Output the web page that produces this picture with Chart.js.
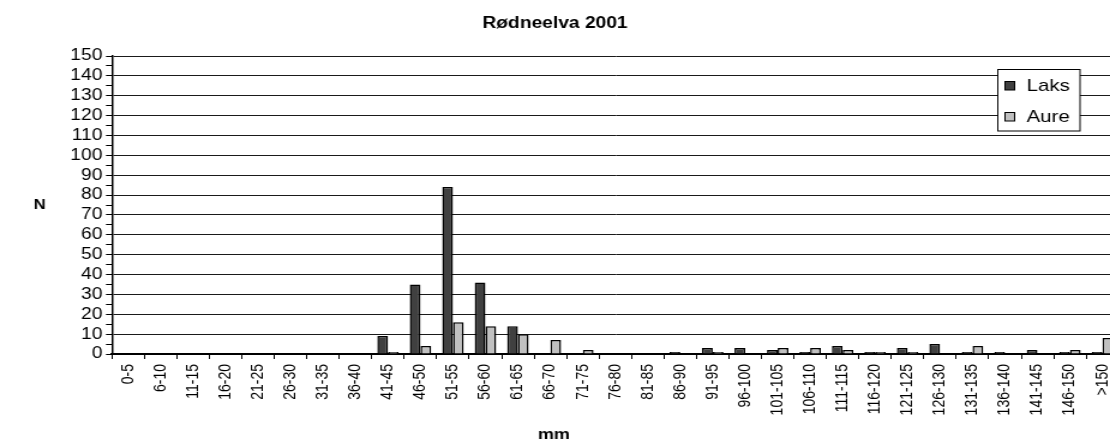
<!DOCTYPE html>
<html>
<head>
<meta charset="utf-8">
<script src="https://cdn.jsdelivr.net/npm/chart.js@4/dist/chart.umd.min.js"></script>
<style>
html,body{margin:0;padding:0;background:#fff;}
#wrap{width:1110px;height:447px;overflow:hidden;position:relative;background:#fff;}
#c{position:absolute;left:0;top:0;transform:scaleX(1.2);transform-origin:0 0;}
</style>
</head>
<body>
<div id="wrap"><canvas id="c" width="950" height="447" style="width:950px;height:447px"></canvas></div>
<script>
const chartTitle = 'Rødneelva 2001';
const yTitle = 'N';
const xTitle = 'mm';
const categories = ['0-5','6-10','11-15','16-20','21-25','26-30','31-35','36-40','41-45','46-50','51-55','56-60','61-65','66-70','71-75','76-80','81-85','86-90','91-95','96-100','101-105','106-110','111-115','116-120','121-125','126-130','131-135','136-140','141-145','146-150','>150'];
const laks = [0,0,0,0,0,0,0,0,9,35,84,36,14,0,0,0,0,1,3,3,2,1,4,1,3,5,1,1,2,1,1];
const aure = [0,0,0,0,0,0,0,0,1,4,16,14,10,7,2,0,0,0,1,0,3,3,2,1,1,0,4,0,0,2,8];
const seriesNames = ['Laks','Aure'];
const seriesColors = ['#404040','#c0c0c0'];
const yMin = 0, yMax = 150, yStep = 10;

const FONT = '"Liberation Sans", Arial, sans-serif';

const textPlugin = {
  id: 'textPlugin',
  afterDraw(chart) {
    const ctx = chart.ctx;
    ctx.save();
    ctx.fillStyle = '#000';
    ctx.textAlign = 'center';
    ctx.textBaseline = 'middle';
    ctx.font = 'bold 16px ' + FONT;
    ctx.fillText(chartTitle, 462.5, 24);
    ctx.font = 'bold 14px ' + FONT;
    ctx.fillText(yTitle, 33, 205);
    ctx.font = 'bold 15px ' + FONT;
    ctx.fillText(xTitle, 461.5, 435);
    // legend
    const bx = 831.5, by = 69.5, bw = 68.5, bh = 61.5;
    ctx.fillStyle = '#fff';
    ctx.fillRect(bx, by, bw, bh);
    ctx.strokeStyle = '#000';
    ctx.lineWidth = 1;
    ctx.strokeRect(bx, by, bw, bh);
    const rows = [{sq: 81.5, base: 90.5}, {sq: 112.5, base: 122}];
    ctx.textAlign = 'left';
    ctx.textBaseline = 'alphabetic';
    ctx.font = '17px ' + FONT;
    rows.forEach((r, i) => {
      ctx.fillStyle = seriesColors[i];
      ctx.fillRect(837.5, r.sq, 8, 8.5);
      ctx.strokeStyle = '#000';
      ctx.lineWidth = 1;
      ctx.strokeRect(837.5, r.sq, 8, 8.5);
      ctx.fillStyle = '#000';
      ctx.fillText(seriesNames[i], 855.5, r.base);
    });
    ctx.restore();
  }
};

new Chart(document.getElementById('c'), {
  type: 'bar',
  data: {
    labels: categories,
    datasets: [
      {label: seriesNames[0], data: laks, backgroundColor: seriesColors[0], borderColor: '#000', borderWidth: 1.5, borderSkipped: 'start'},
      {label: seriesNames[1], data: aure, backgroundColor: seriesColors[1], borderColor: '#000', borderWidth: 1.5, borderSkipped: 'start'}
    ]
  },
  options: {
    responsive: false,
    animation: false,
    devicePixelRatio: 1,
    layout: {padding: {top: 56, right: 17.8, left: 0, bottom: 0}},
    datasets: {bar: {categoryPercentage: 0.66, barPercentage: 1}},
    plugins: {legend: {display: false}, title: {display: false}, tooltip: {enabled: false}},
    scales: {
      x: {
        afterFit(s) { s.height = 93; },
        grid: {drawOnChartArea: false, drawTicks: true, tickLength: 5, color: '#000', offset: true},
        border: {color: '#000', width: 2},
        ticks: {autoSkip: false, minRotation: 90, maxRotation: 90, color: '#000', padding: 5, font: {family: FONT, size: 14}}
      },
      y: {
        min: yMin, max: yMax,
        afterFit(s) { s.width = 93.3; },
        grid: {
          color: (c) => (c.tick && c.tick.value % yStep === 0) ? '#1a1a1a' : 'rgba(0,0,0,0)',
          tickColor: '#000', tickLength: 5, lineWidth: 1
        },
        border: {color: '#000', width: 1.5},
        ticks: {
          stepSize: yStep / 2, autoSkip: false, color: '#000', padding: 3,
          font: {family: FONT, size: 16},
          callback: (v) => (v % yStep === 0 ? String(v) : '')
        }
      }
    }
  },
  plugins: [textPlugin]
});
</script>
</body>
</html>
